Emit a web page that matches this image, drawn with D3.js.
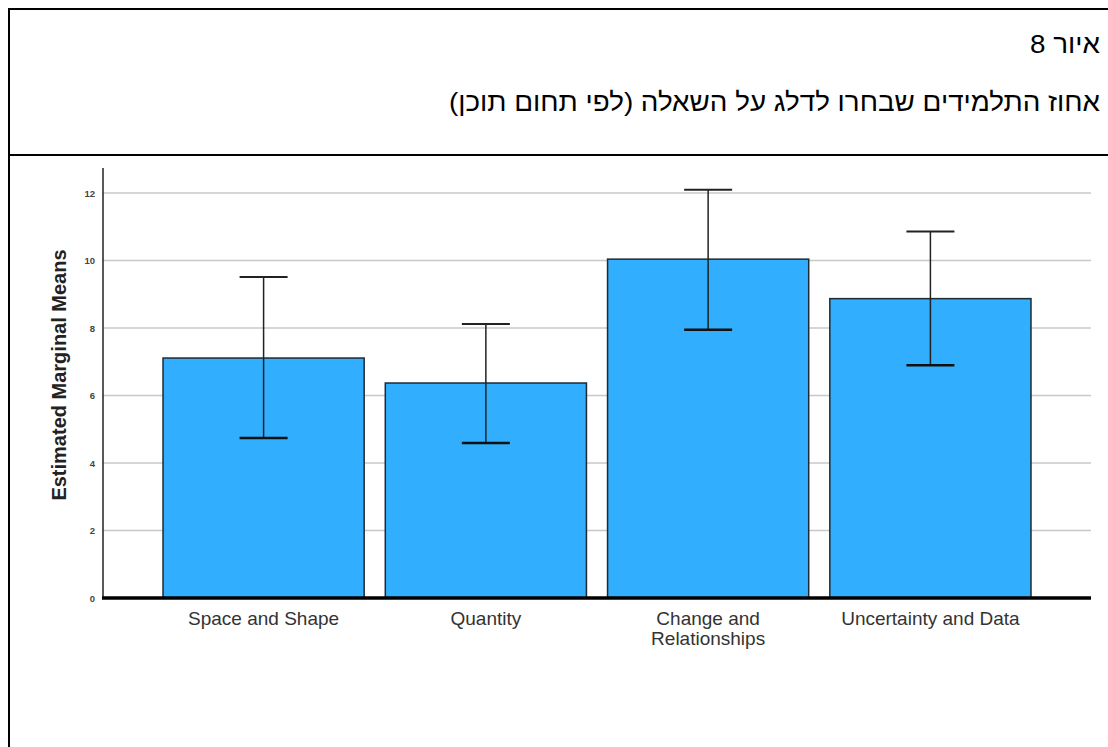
<!DOCTYPE html>
<html>
<head>
<meta charset="utf-8">
<script src="https://cdn.jsdelivr.net/npm/d3@7"></script>
<style>
  html, body { margin: 0; padding: 0; background: #fff; }
  svg { display: block; }
</style>
</head>
<body>
<svg id="chart" width="1108" height="747"></svg>
<script>
// Estimated marginal means by content domain, with error bar bounds
const categories = ["Space and Shape", "Quantity", "Change and Relationships", "Uncertainty and Data"];
const categoryLines = [["Space and Shape"], ["Quantity"], ["Change and", "Relationships"], ["Uncertainty and Data"]];
const means = [7.11, 6.37, 10.04, 8.87];
const upper = [9.51, 8.12, 12.10, 10.86];
const lower = [4.74, 4.59, 7.95, 6.90];
const yTicks = [0, 2, 4, 6, 8, 10, 12];
const figureLabel = "איור 8";
const titleText = "אחוז התלמידים שבחרו לדלג על השאלה (לפי תחום תוכן)";
const yTitle = "Estimated Marginal Means";

const svg = d3.select("#chart");
const font = "'Liberation Sans', Arial, sans-serif";

// Frame lines of the surrounding table cell
svg.append("line").attr("x1", 8).attr("x2", 1108).attr("y1", 9).attr("y2", 9)
  .attr("stroke", "#000").attr("stroke-width", 2);
svg.append("line").attr("x1", 8).attr("x2", 1108).attr("y1", 155).attr("y2", 155)
  .attr("stroke", "#000").attr("stroke-width", 2);
svg.append("line").attr("x1", 9).attr("x2", 9).attr("y1", 8).attr("y2", 747)
  .attr("stroke", "#000").attr("stroke-width", 2);

// Header texts (right-to-left), anchored at the right margin
svg.append("text").attr("transform", "translate(1100,53) scale(1.07,1)")
  .attr("direction", "rtl").attr("text-anchor", "start")
  .style("font-family", font).style("font-size", "26px")
  .attr("fill", "#000").text(figureLabel);
svg.append("text").attr("transform", "translate(1100,111) scale(1.07,1)")
  .attr("direction", "rtl").attr("text-anchor", "start")
  .style("font-family", font).style("font-size", "26px")
  .attr("fill", "#000").text(titleText);

// Scales
const x = d3.scaleBand().domain(categories).range([103, 1091])
  .paddingInner(0.095).paddingOuter(0.27);
const y = d3.scaleLinear().domain([0, 12]).range([598, 193]);

// Gridlines
svg.append("g").selectAll("line").data(yTicks.filter(d => d > 0)).join("line")
  .attr("x1", 103).attr("x2", 1091)
  .attr("y1", d => y(d)).attr("y2", d => y(d))
  .attr("stroke", "#c8c8c8").attr("stroke-width", 1.5);

// Y axis
const yAxis = svg.append("g").attr("transform", "translate(103,0)")
  .call(d3.axisLeft(y).tickValues(yTicks).tickSize(0).tickPadding(8).tickFormat(d3.format("d")));
yAxis.select(".domain").remove();
yAxis.selectAll("text")
  .style("font-family", font).style("font-size", "9.5px")
  .style("font-weight", "bold").attr("fill", "#444");
svg.append("line").attr("x1", 103).attr("x2", 103).attr("y1", 168).attr("y2", 598)
  .attr("stroke", "#222").attr("stroke-width", 1.5);

// Bars
svg.append("g").selectAll("rect").data(categories).join("rect")
  .attr("x", d => x(d)).attr("width", x.bandwidth())
  .attr("y", (d, i) => y(means[i])).attr("height", (d, i) => y(0) - y(means[i]))
  .attr("fill", "#31aefe").attr("stroke", "#1e2a33").attr("stroke-width", 1.5);

// Error bars
const eb = svg.append("g").selectAll("g").data(categories).join("g");
const cx = d => x(d) + x.bandwidth() / 2;
eb.append("line").attr("x1", cx).attr("x2", cx)
  .attr("y1", (d, i) => y(upper[i])).attr("y2", (d, i) => y(lower[i]))
  .attr("stroke", "#222").attr("stroke-width", 1.5);
eb.append("line").attr("x1", d => cx(d) - 24).attr("x2", d => cx(d) + 24)
  .attr("y1", (d, i) => y(upper[i])).attr("y2", (d, i) => y(upper[i]))
  .attr("stroke", "#222").attr("stroke-width", 2);
eb.append("line").attr("x1", d => cx(d) - 24).attr("x2", d => cx(d) + 24)
  .attr("y1", (d, i) => y(lower[i])).attr("y2", (d, i) => y(lower[i]))
  .attr("stroke", "#111").attr("stroke-width", 2.5);

// Baseline
svg.append("line").attr("x1", 102).attr("x2", 1091).attr("y1", y(0)).attr("y2", y(0))
  .attr("stroke", "#000").attr("stroke-width", 3.5);

// Category labels
const xl = svg.append("g").selectAll("text").data(categories).join("text")
  .attr("x", cx).attr("y", 625).attr("text-anchor", "middle")
  .style("font-family", font).style("font-size", "19px")
  .attr("fill", "#333");
xl.selectAll("tspan").data((d, i) => categoryLines[i]).join("tspan")
  .attr("x", function() { return this.parentNode.getAttribute("x"); })
  .attr("dy", (d, j) => j === 0 ? 0 : 20).text(d => d);

// Y axis title
svg.append("text").attr("transform", "translate(66,375) rotate(-90)")
  .attr("text-anchor", "middle")
  .style("font-family", font).style("font-size", "20px")
  .style("font-weight", "bold").attr("fill", "#222").text(yTitle);
</script>
</body>
</html>
